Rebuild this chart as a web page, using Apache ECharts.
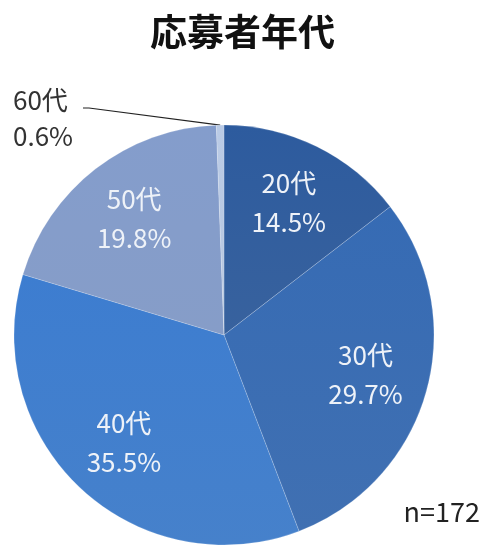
<!DOCTYPE html>
<html><head><meta charset="utf-8">
<style>html,body{margin:0;padding:0;background:#fff}#c{width:485px;height:548px}</style>
<script src="https://cdn.jsdelivr.net/npm/echarts@6/dist/echarts.min.js"></script>
</head><body><div id="c"></div>
<script>
const categories = ['20代', '30代', '40代', '50代', '60代'];
const counts = [25, 51, 61, 34, 1];
const percents = ['14.5%', '29.7%', '35.5%', '19.8%', '0.6%'];
const colors = ['#2C5898', '#3467AE', '#3B79C8', '#7F97C5', '#B3C4DE'];
const titleText = '応募者年代';
const noteText = 'n=172';

const FONT = '"Noto Sans CJK JP", "Noto Sans", sans-serif';
const chart = echarts.init(document.getElementById('c'));
const R = 210;
const center = [224, 335];

function shade(c) {
  return new echarts.graphic.LinearGradient(0, 0, 0, 1, [
    {offset: 0, color: echarts.color.lift(c, -0.04)},
    {offset: 1, color: echarts.color.lift(c, 0.06)}
  ]);
}

const mainData = categories.map((name, i) => ({
  name: name, value: counts[i],
  itemStyle: {color: shade(colors[i])},
  label: i === 4 ? {show: true} : {show: false},
  labelLine: i === 4 ? {show: true} : {show: false}
}));

const overlayData = categories.map((name, i) => ({
  name: name, value: counts[i],
  label: {show: i !== 4}
}));

chart.setOption({
  animation: false,
  title: {
    text: titleText, left: 'center', top: 8,
    textStyle: {fontFamily: FONT, fontSize: 37, fontWeight: 'bold', color: '#111'}
  },
  graphic: [{
    type: 'text', right: 5, top: 498,
    style: {text: noteText, font: '27px ' + FONT, fill: '#222'}
  }],
  series: [{
    type: 'pie', radius: [0, R], center: center, startAngle: 90, clockwise: true,
    data: mainData,
    itemStyle: {borderColor: 'rgba(255,255,255,0.3)', borderWidth: 0.6},
    label: {
      position: 'outside',
      formatter: p => p.name + '\n' + percents[p.dataIndex],
      fontFamily: FONT, fontSize: 26, lineHeight: 36, color: '#333', align: 'left'
    },
    labelLine: {lineStyle: {color: '#222', width: 1.2}, length: 10, length2: 10},
    labelLayout: function (p) {
      if (p.dataIndex !== 4) return {};
      const pts = p.labelLinePoints;
      const start = pts ? pts[0] : [center[0] - 2, center[1] - R];
      return {
        x: 13, y: 118, align: 'left', verticalAlign: 'middle',
        labelLinePoints: [start, [89, 108], [83, 108]]
      };
    },
    emphasis: {disabled: true}
  }, {
    type: 'pie', radius: [0, 288], center: center, startAngle: 90, clockwise: true,
    data: overlayData, silent: true,
    itemStyle: {color: 'rgba(0,0,0,0)'},
    label: {
      position: 'inner',
      formatter: p => p.name + '\n' + percents[p.dataIndex],
      fontFamily: FONT, fontSize: 26, lineHeight: 39, color: '#EEF2F8'
    },
    labelLine: {show: false},
    emphasis: {disabled: true}
  }]
});
</script></body></html>
